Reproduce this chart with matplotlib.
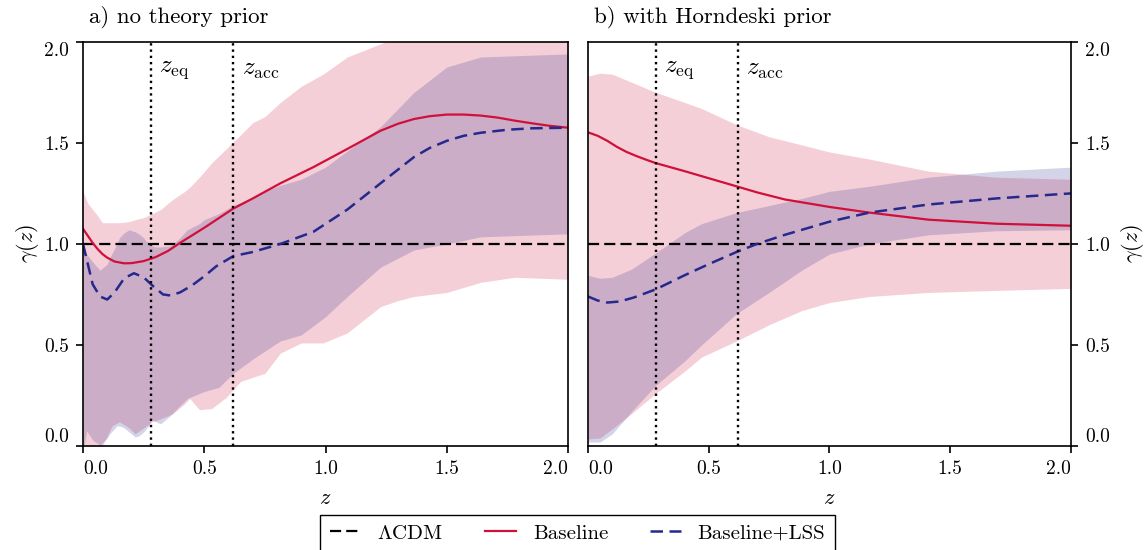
import matplotlib
matplotlib.use("Agg")
import matplotlib.pyplot as plt

plt.rcParams['font.family'] = 'cmr10'
plt.rcParams['mathtext.fontset'] = 'cm'
plt.rcParams['axes.formatter.use_mathtext'] = True
plt.rcParams['axes.unicode_minus'] = False

Z_EQ = 0.28
Z_ACC = 0.62
LCDM = 1.0

# panel a) no theory prior
a_red_z = [0.0, 0.02, 0.04, 0.06, 0.08, 0.1, 0.13, 0.17, 0.2, 0.25, 0.3, 0.35, 0.4, 0.5, 0.62, 0.7,
           0.814, 0.95, 1.09, 1.227, 1.3, 1.365, 1.43, 1.5, 1.57, 1.64, 1.71, 1.78, 1.85, 1.92, 2.0]
a_red = [1.075, 1.04, 1.005, 0.975, 0.95, 0.932, 0.913, 0.904, 0.905, 0.915, 0.935, 0.965, 1.005, 1.08,
         1.175, 1.225, 1.30, 1.38, 1.47, 1.56, 1.595, 1.618, 1.632, 1.64, 1.64, 1.635, 1.625, 1.61,
         1.597, 1.585, 1.575]

a_blue_z = [0.0, 0.02, 0.04, 0.07, 0.1, 0.13, 0.17, 0.21, 0.25, 0.29, 0.33, 0.36, 0.4, 0.45, 0.5,
            0.55, 0.62, 0.7, 0.814, 0.95, 1.09, 1.227, 1.365, 1.43, 1.5, 1.57, 1.64, 1.75, 1.85, 2.0]
a_blue = [1.0, 0.9, 0.8, 0.74, 0.725, 0.76, 0.83, 0.855, 0.835, 0.79, 0.75, 0.745, 0.76, 0.795, 0.84,
          0.89, 0.94, 0.96, 1.0, 1.06, 1.17, 1.30, 1.43, 1.475, 1.51, 1.535, 1.55, 1.565, 1.572, 1.575]

a_red_band_z = [0.0, 0.02, 0.04, 0.06, 0.08, 0.12, 0.15, 0.19, 0.215, 0.25, 0.285, 0.32, 0.37, 0.42,
                0.44, 0.48, 0.53, 0.59, 0.65, 0.7, 0.75, 0.814, 0.9, 0.99, 1.09, 1.227, 1.3, 1.365,
                1.5, 1.64, 1.78, 2.0]
a_red_lo = [0.0, 0.0, -0.02, -0.02, 0.0, 0.1, 0.12, 0.09, 0.06, 0.09, 0.12, 0.135, 0.16, 0.21,
            0.235, 0.18, 0.185, 0.24, 0.32, 0.34, 0.36, 0.46, 0.51, 0.51, 0.56, 0.69, 0.72, 0.74,
            0.76, 0.81, 0.835, 0.825]
a_red_hi = [1.26, 1.2, 1.17, 1.14, 1.105, 1.105, 1.105, 1.11, 1.12, 1.13, 1.15, 1.17, 1.22, 1.26,
            1.28, 1.33, 1.4, 1.47, 1.54, 1.6, 1.63, 1.70, 1.78, 1.84, 1.925, 1.99, 2.03, 2.06,
            2.1, 2.1, 2.1, 2.1]

a_blue_band_z = [0.0, 0.015, 0.04, 0.07, 0.1, 0.11, 0.14, 0.15, 0.17, 0.19, 0.215, 0.23, 0.25, 0.27,
                 0.285, 0.3, 0.32, 0.36, 0.4, 0.43, 0.48, 0.5, 0.56, 0.62, 0.7, 0.75, 0.814, 0.9,
                 1.0, 1.09, 1.227, 1.365, 1.5, 1.64, 2.0]
a_blue_lo = [-0.03, 0.075, 0.03, 0.005, 0.04, 0.06, 0.1, 0.1, 0.09, 0.07, 0.045, 0.05, 0.07, 0.1,
             0.13, 0.12, 0.11, 0.15, 0.2, 0.235, 0.26, 0.27, 0.29, 0.36, 0.43, 0.47, 0.52, 0.55,
             0.64, 0.74, 0.885, 0.97, 1.0, 1.035, 1.05]
a_blue_hi = [1.0, 0.95, 0.91, 0.87, 0.9, 0.93, 1.0, 1.03, 1.055, 1.07, 1.06, 1.05, 1.03, 1.0,
             0.99, 0.985, 0.985, 0.99, 1.03, 1.07, 1.1, 1.12, 1.15, 1.19, 1.23, 1.26, 1.29, 1.32,
             1.38, 1.46, 1.58, 1.75, 1.875, 1.925, 1.94]

# panel b) with Horndeski prior
b_red_z = [0.0, 0.04, 0.08, 0.12, 0.16, 0.2, 0.24, 0.28, 0.4, 0.5, 0.615, 0.7, 0.815, 1.0, 1.165,
           1.41, 1.69, 2.0]
b_red = [1.552, 1.535, 1.51, 1.48, 1.455, 1.435, 1.417, 1.40, 1.36, 1.325, 1.285, 1.255, 1.22, 1.183,
         1.155, 1.12, 1.10, 1.09]

b_blue_z = [0.0, 0.04, 0.08, 0.13, 0.19, 0.28, 0.4, 0.5, 0.615, 0.7, 0.815, 1.0, 1.165, 1.41, 1.69, 2.0]
b_blue = [0.74, 0.72, 0.71, 0.715, 0.735, 0.775, 0.845, 0.9, 0.96, 1.0, 1.045, 1.11, 1.155, 1.195, 1.225, 1.25]

b_band_z = [0.0, 0.05, 0.1, 0.18, 0.28, 0.4, 0.47, 0.615, 0.75, 0.885, 1.0, 1.165, 1.41, 1.69, 2.0]
b_red_lo = [0.035, 0.04, 0.085, 0.16, 0.26, 0.37, 0.44, 0.52, 0.6, 0.67, 0.71, 0.74, 0.76, 0.77, 0.78]
b_red_hi = [1.83, 1.845, 1.84, 1.8, 1.75, 1.7, 1.67, 1.59, 1.53, 1.49, 1.455, 1.42, 1.36, 1.33, 1.32]
b_blue_lo = [0.02, 0.02, 0.06, 0.17, 0.3, 0.42, 0.5, 0.655, 0.76, 0.87, 0.95, 1.0, 1.045, 1.065, 1.07]
b_blue_hi = [0.845, 0.83, 0.835, 0.875, 0.955, 1.055, 1.1, 1.155, 1.19, 1.225, 1.26, 1.285, 1.33, 1.36, 1.38]

titles = ['a) no theory prior', 'b) with Horndeski prior']
xticks = [0.0, 0.5, 1.0, 1.5, 2.0]
yticks = [0.0, 0.5, 1.0, 1.5, 2.0]

RED = '#d0103a'
BLUE = '#26288c'


def draw_panel(ax, title, red_band, blue_band, red_line, blue_line, ylabelpad):
    ax.fill_between(red_band[0], red_band[1], red_band[2], color=RED, alpha=0.2, lw=0)
    ax.fill_between(blue_band[0], blue_band[1], blue_band[2], color=BLUE, alpha=0.2, lw=0)

    ax.axhline(LCDM, color='black', ls=(0, (5, 2.3)), lw=1.6, label=r'$\Lambda$CDM')
    ax.plot(red_line[0], red_line[1], color=RED, lw=1.6, label='Baseline')
    ax.plot(blue_line[0], blue_line[1], color=BLUE, lw=1.8, ls=(0, (5, 2.6)), label='Baseline+LSS')

    for zv, name in [(Z_EQ, r'$z_{\rm eq}$'), (Z_ACC, r'$z_{\rm acc}$')]:
        ax.axvline(zv, color='black', ls=':', lw=1.7)
        ax.text(zv + 0.035, 1.86, name, fontsize=18, va='center', ha='left')

    ax.set_xlim(0, 2)
    ax.set_ylim(0, 2)
    ax.set_xticks(xticks, [f'{t:.1f}' for t in xticks])
    ax.set_yticks(yticks, [f'{t:.1f}' for t in yticks])
    ax.tick_params(direction='out', length=5, width=1.2, labelsize=14, pad=5)
    for s in ax.spines.values():
        s.set_linewidth(1.2)

    xl = ax.get_xticklabels()
    xl[0].set_ha('left')
    xl[-1].set_ha('right')
    yl = ax.get_yticklabels()
    yl[0].set_va('bottom')
    yl[-1].set_va('top')

    ax.set_xlabel(r'$z$', fontsize=16, labelpad=8)
    ax.set_ylabel(r'$\gamma(z)$', fontsize=16, labelpad=ylabelpad)
    ax.text(0.012, 1.035, title, transform=ax.transAxes, fontsize=16.5, ha='left', va='bottom')


fig = plt.figure(figsize=(11.48, 5.5), dpi=100)
ax1 = fig.add_axes([0.0723, 0.189, 0.4225, 0.735])
ax2 = fig.add_axes([0.5122, 0.189, 0.4207, 0.735])

draw_panel(ax1, titles[0], (a_red_band_z, a_red_lo, a_red_hi), (a_blue_band_z, a_blue_lo, a_blue_hi),
           (a_red_z, a_red), (a_blue_z, a_blue), 2)
ax2.yaxis.tick_right()
ax2.yaxis.set_label_position('right')
draw_panel(ax2, titles[1], (b_band_z, b_red_lo, b_red_hi), (b_band_z, b_blue_lo, b_blue_hi),
           (b_red_z, b_red), (b_blue_z, b_blue), 7)
yl2 = ax2.get_yticklabels()
yl2[0].set_va('bottom')
yl2[-1].set_va('top')

handles, labels = ax1.get_legend_handles_labels()
leg = fig.legend(handles, labels, loc='upper center', bbox_to_anchor=(0.503, 0.064), ncol=3,
                 fontsize=15, frameon=True, fancybox=False, framealpha=1, edgecolor='black',
                 handlelength=1.5, columnspacing=2.0, borderpad=0.45, borderaxespad=0)
leg.get_frame().set_linewidth(1.0)

fig.savefig('out.png', dpi=100)
